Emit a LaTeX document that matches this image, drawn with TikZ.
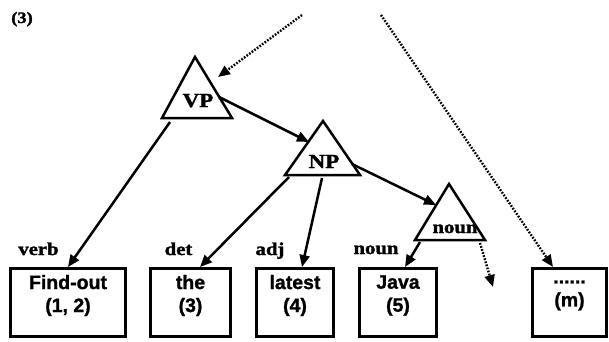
\documentclass[tikz,border=0pt]{standalone}
\usepackage{fontspec}
\setmainfont{Liberation Serif}
\newfontfamily\boxfont[BoldFeatures={FakeBold=1.2}]{Liberation Sans}
\newfontfamily\labfont[BoldFeatures={FakeBold=1.6}]{Liberation Serif}
\newcommand\widetext[1]{\scalebox{1.15}[1]{#1}}
\usetikzlibrary{arrows.meta}
\tikzset{
  wbox/.style={draw, line width=2.9pt, minimum height=68.1pt, inner sep=0pt},
  boxtxt/.style={font=\boxfont\bfseries\fontsize{19.5}{23}\selectfont, align=center, inner sep=0pt},
  lab/.style={font=\fontsize{18}{20}\selectfont\labfont\bfseries, align=center, inner sep=0pt, anchor=base},
  tritxt/.style={font=\fontsize{20}{22}\selectfont\labfont\bfseries, align=center, inner sep=0pt, anchor=base},
  ttl/.style={font=\fontsize{16}{18}\selectfont\labfont\bfseries, align=center, inner sep=0pt, anchor=base},
  tri/.style={draw, line width=2.5pt, line join=miter},
  arr/.style={line width=2.5pt, -{Triangle[length=12pt,width=10pt]}},
  dotarr/.style={line width=2.4pt, dash pattern=on 1.7pt off 1.5pt, -{Triangle[length=12pt,width=10pt]}},
}
\begin{document}
\begin{tikzpicture}[x=1pt,y=-1pt]
\useasboundingbox (0,0) rectangle (609,341);

% title
\node[ttl] (title) at (22,23) {\widetext{(3)}};

% triangles
\coordinate (VPa) at (195,57);
\coordinate (VPl) at (162,118);
\coordinate (VPr) at (232,118);
\draw[tri] (VPa) -- (VPl) -- (VPr) -- cycle;
\node[tritxt] (VP) at (198,107) {\widetext{VP}};

\coordinate (NPa) at (323,121);
\coordinate (NPl) at (285,175);
\coordinate (NPr) at (360,175);
\draw[tri] (NPa) -- (NPl) -- (NPr) -- cycle;
\node[tritxt] (NP) at (324,168) {\widetext{NP}};

\coordinate (Na) at (449,184);
\coordinate (Nl) at (415,240);
\coordinate (Nr) at (485,240);
\draw[tri] (Na) -- (Nl) -- (Nr) -- cycle;
\node[lab] (nountri) at (455,233) {\widetext{noun}};

% boxes
\node[wbox, minimum width=115.1pt] (b1) at (68,302.5) {};
\node[boxtxt] (t1) at (68,295.5) {Find-out\\(1, 2)};
\node[wbox, minimum width=80.1pt] (b2) at (190.5,302.5) {};
\node[boxtxt] (t2) at (190.5,295.5) {the\\(3)};
\node[wbox, minimum width=77.1pt] (b3) at (295,302.5) {};
\node[boxtxt] (t3) at (295,295.5) {latest\\(4)};
\node[wbox, minimum width=77.1pt] (b4) at (398,302.5) {};
\node[boxtxt] (t4) at (398,295.5) {Java\\(5)};
\node[wbox, minimum width=74.1pt] (b5) at (569.5,302.5) {};
\node[boxtxt] (t5) at (569.5,295.5) {......\\(m)};

% category labels
\node[lab] (l1) at (38.5,255) {\widetext{verb}};
\node[lab] (l2) at (178.5,255) {\widetext{det}};
\node[lab] (l3) at (270,255) {\widetext{adj}};
\node[lab] (l4) at (376,254) {\widetext{noun}};

% connector points
\coordinate (s1) at (302,15);
\coordinate (e1) at (218,77);
\coordinate (s2) at (381,15);
\coordinate (e2) at (553,267);
\coordinate (s3) at (480,243);
\coordinate (e3) at (493,287);
\coordinate (vpf) at (170,122);
\coordinate (vpn) at (219,97);
\coordinate (npin) at (309,142);
\coordinate (npt) at (289,177);
\coordinate (npl) at (322,178);
\coordinate (npn) at (352,164);
\coordinate (nin) at (436,205);
\coordinate (nj) at (420,242);

% solid arrows
\draw[arr] (vpf) -- (b1.north);
\draw[arr] (vpn) -- (npin);
\draw[arr] (npt) -- ([xshift=9.5pt]b2.north);
\draw[arr] (npl) -- ([xshift=7pt]b3.north);
\draw[arr] (npn) -- (nin);
\draw[arr] (nj) -- ([xshift=7pt]b4.north);

% dotted arrows
\draw[dotarr] (s1) -- (e1);
\draw[dotarr] (s2) -- (e2);
\draw[dotarr] (s3) -- (e3);
\end{tikzpicture}
\end{document}
